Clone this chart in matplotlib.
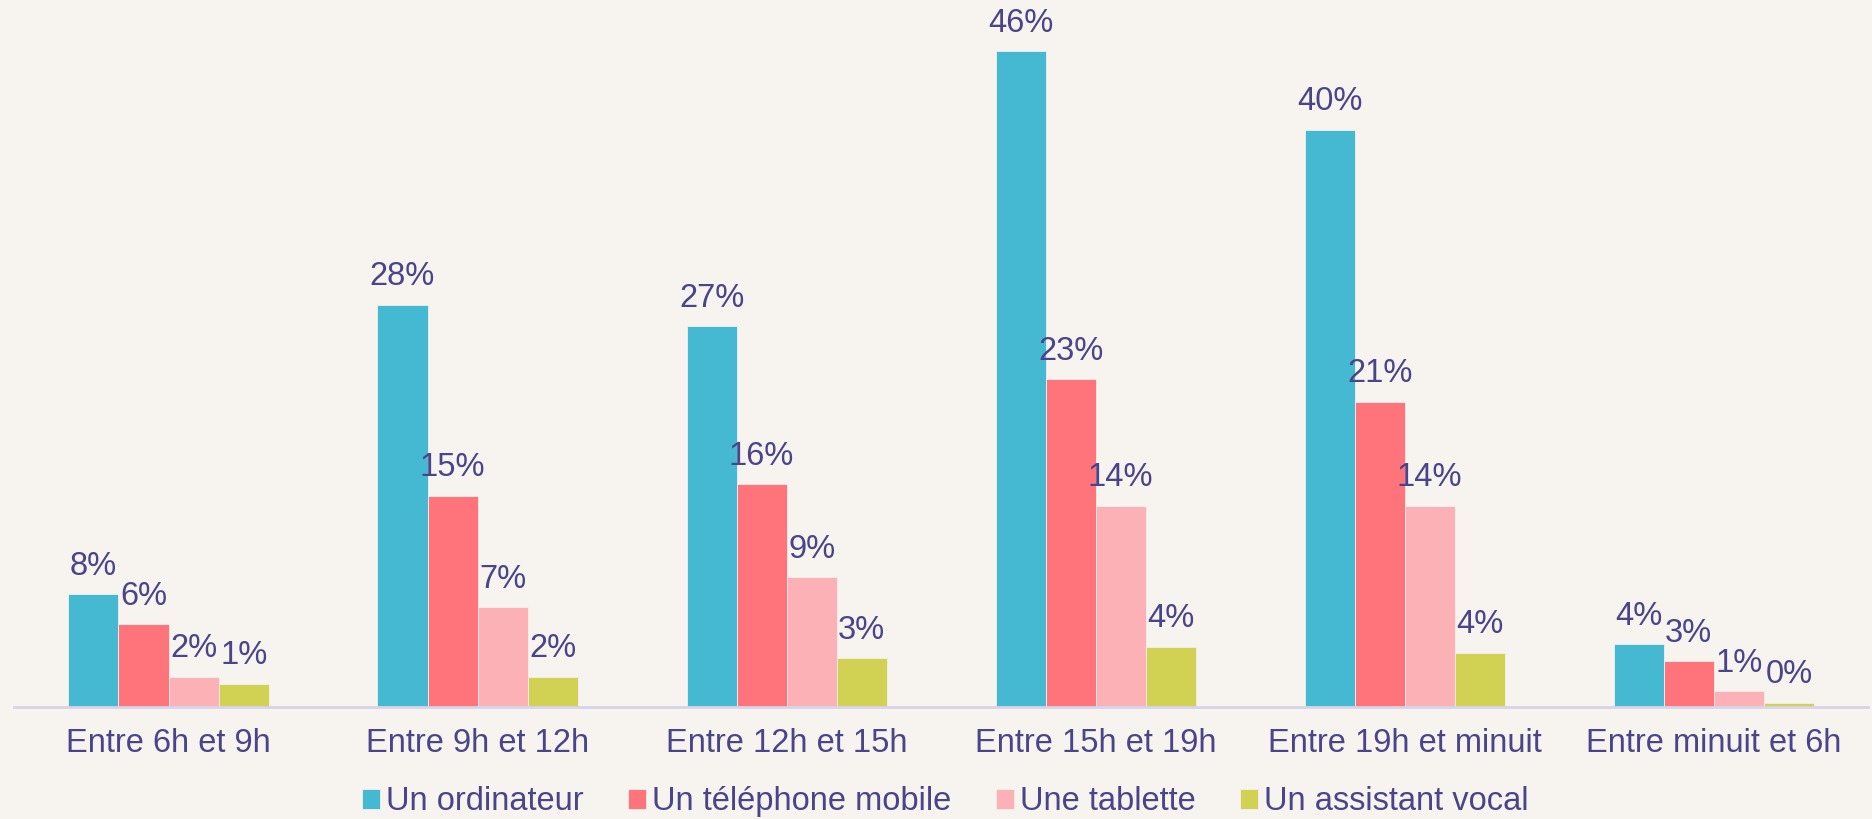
import numpy as np
import matplotlib.pyplot as plt

# share of use by time slot and device
categories = ['Entre 6h et 9h', 'Entre 9h et 12h', 'Entre 12h et 15h',
              'Entre 15h et 19h', 'Entre 19h et minuit', 'Entre minuit et 6h']
series_names = ['Un ordinateur', 'Un téléphone mobile', 'Une tablette', 'Un assistant vocal']

ordinateur = [7.9, 28.2, 26.7, 46.0, 40.5, 4.4]
mobile = [5.8, 14.8, 15.6, 23.0, 21.4, 3.2]
tablette = [2.1, 7.0, 9.1, 14.1, 14.1, 1.1]
vocal = [1.6, 2.1, 3.4, 4.2, 3.8, 0.3]

lab_ordinateur = ['8%', '28%', '27%', '46%', '40%', '4%']
lab_mobile = ['6%', '15%', '16%', '23%', '21%', '3%']
lab_tablette = ['2%', '7%', '9%', '14%', '14%', '1%']
lab_vocal = ['1%', '2%', '3%', '4%', '4%', '0%']

colors = ['#45B9D1', '#FF737B', '#FBB1B5', '#D1D154']
text_color = '#4A4489'
bg = '#F7F4EF'

plt.rcParams['font.family'] = ['Liberation Sans', 'DejaVu Sans']

fig = plt.figure(figsize=(18.72, 8.19), dpi=100, facecolor=bg)
ax = fig.add_axes([0.0075, 0.137, 0.9905, 0.863])
ax.set_facecolor(bg)

x = np.arange(len(categories))
width = 0.162
all_vals = [ordinateur, mobile, tablette, vocal]
all_labs = [lab_ordinateur, lab_mobile, lab_tablette, lab_vocal]

for i, (vals, labs) in enumerate(zip(all_vals, all_labs)):
    pos = x + (i - 1.5) * width
    bars = ax.bar(pos, vals, width, color=colors[i], label=series_names[i],
                  edgecolor='#F4F0EC', linewidth=0.6)
    for b, t in zip(bars, labs):
        ax.annotate(t, (b.get_x() + b.get_width() / 2, b.get_height()),
                    xytext=(0, 9), textcoords='offset points',
                    ha='center', va='bottom', fontsize=23.5, color=text_color)

ax.set_xlim(-0.5, len(categories) - 0.5)
ax.set_ylim(0, 49.6)
ax.set_xticks(x)
ax.set_xticklabels(categories, fontsize=23.5, color=text_color)
ax.tick_params(axis='x', length=0, pad=15)
ax.set_yticks([])
for s in ['top', 'right', 'left']:
    ax.spines[s].set_visible(False)
ax.spines['bottom'].set_color('#D8D3EA')
ax.spines['bottom'].set_linewidth(2)

fig.legend(loc='center', bbox_to_anchor=(0.505, 0.021), ncol=4, frameon=False,
           fontsize=23.5, labelcolor=text_color, handlelength=0.55, handleheight=0.55,
           handletextpad=0.2, columnspacing=1.35)

fig.savefig('out.png', dpi=100, facecolor=bg)
